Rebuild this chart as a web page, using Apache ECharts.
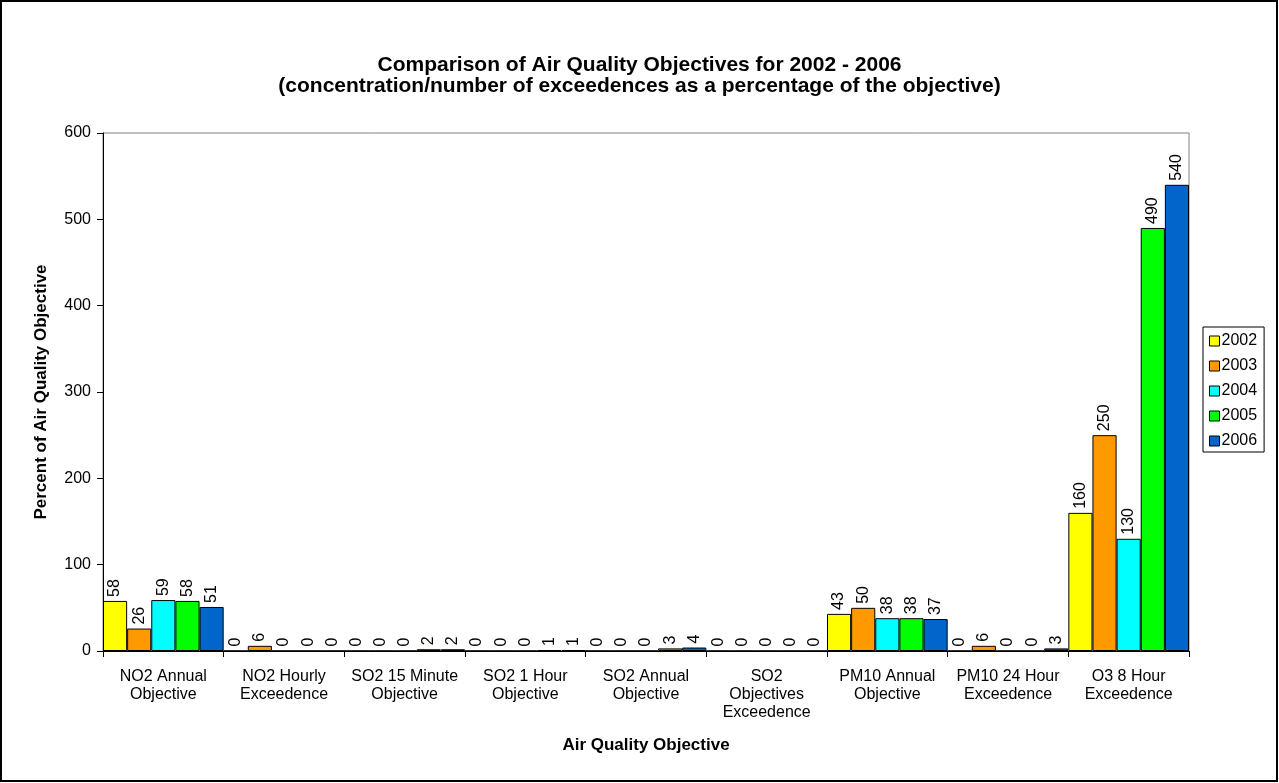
<!DOCTYPE html>
<html>
<head>
<meta charset="utf-8">
<script src="https://cdn.jsdelivr.net/npm/echarts@6/dist/echarts.min.js"></script>
<style>
  html, body { margin: 0; padding: 0; background: #fff; }
  #chart { width: 1279px; height: 783px; }
</style>
</head>
<body>
<div id="chart"></div>
<script>
// Air quality objectives, 2002-2006, as percent of each objective
const categories = [
  'NO2 Annual\nObjective',
  'NO2 Hourly\nExceedence',
  'SO2 15 Minute\nObjective',
  'SO2 1 Hour\nObjective',
  'SO2 Annual\nObjective',
  'SO2\nObjectives\nExceedence',
  'PM10 Annual\nObjective',
  'PM10 24 Hour\nExceedence',
  'O3 8 Hour\nExceedence'
];
const years = ['2002', '2003', '2004', '2005', '2006'];
const values2002 = [58, 0, 0, 0, 0, 0, 43, 0, 160];
const values2003 = [26, 6, 0, 0, 0, 0, 50, 6, 250];
const values2004 = [59, 0, 0, 0, 0, 0, 38, 0, 130];
const values2005 = [58, 0, 2, 1, 3, 0, 38, 0, 490];
const values2006 = [51, 0, 2, 1, 4, 0, 37, 3, 540];
const yTicks = [0, 100, 200, 300, 400, 500, 600];

const seriesValues = [values2002, values2003, values2004, values2005, values2006];
const colors = ['#FFFF00', '#FF9900', '#00FFFF', '#00FF00', '#0066CC'];

const FONT = 'Liberation Sans, Arial, sans-serif';

const chart = echarts.init(document.getElementById('chart'), null, { renderer: 'canvas' });

chart.setOption({
  animation: false,
  backgroundColor: '#ffffff',
  textStyle: { fontFamily: FONT, color: '#000' },
  title: {
    text: 'Comparison of Air Quality Objectives for 2002 - 2006\n(concentration/number of exceedences as a percentage of the objective)',
    left: 'center',
    top: 50,
    textStyle: { fontFamily: FONT, fontSize: 21, fontWeight: 'bold', color: '#000', lineHeight: 21 }
  },
  legend: {
    orient: 'vertical',
    left: 1203,
    top: 327,
    padding: [6, 7, 3, 6],
    itemGap: 9,
    itemWidth: 10,
    itemHeight: 10,
    icon: 'rect',
    borderColor: '#000',
    borderWidth: 1,
    textStyle: { fontFamily: FONT, fontSize: 16, color: '#000', padding: [0, 0, 0, -3] },
    itemStyle: { borderColor: '#000', borderWidth: 1 },
    data: years
  },
  grid: {
    left: 103,
    right: 90,
    top: 133,
    bottom: 132,
    show: true,
    borderColor: '#808080',
    borderWidth: 1,
    containLabel: false
  },
  xAxis: {
    type: 'category',
    data: categories,
    name: 'Air Quality Objective',
    nameLocation: 'middle',
    nameGap: 86,
    nameTextStyle: { fontFamily: FONT, fontSize: 17, fontWeight: 'bold', color: '#000' },
    axisLine: { show: true, lineStyle: { color: '#000', width: 1 } },
    axisTick: { show: true, alignWithLabel: false, interval: 0, length: 6, lineStyle: { color: '#000' } },
    axisLabel: { interval: 0, margin: 17, fontSize: 16, lineHeight: 18, color: '#000', fontFamily: FONT },
    splitLine: { show: false }
  },
  yAxis: {
    type: 'value',
    min: 0,
    max: 600,
    interval: 100,
    name: 'Percent of Air Quality Objective',
    nameLocation: 'middle',
    nameGap: 53,
    nameRotate: 90,
    nameTextStyle: { fontFamily: FONT, fontSize: 17, fontWeight: 'bold', color: '#000' },
    axisLine: { show: true, lineStyle: { color: '#000', width: 1 } },
    axisTick: { show: true, inside: false, length: 6, lineStyle: { color: '#000' } },
    axisLabel: {
      margin: 12,
      fontSize: 16,
      color: '#000',
      fontFamily: FONT,
      formatter: function (v) { return yTicks.indexOf(v) >= 0 ? String(v) : ''; }
    },
    splitLine: { show: false }
  },
  series: years.map(function (year, i) {
    return {
      name: year,
      type: 'bar',
      data: seriesValues[i],
      barGap: '0%',
      barCategoryGap: '0%',
      itemStyle: { color: colors[i], borderColor: '#000', borderWidth: 1 },
      label: {
        show: true,
        position: 'top',
        distance: 4,
        rotate: 90,
        align: 'left',
        verticalAlign: 'middle',
        fontSize: 16,
        fontFamily: FONT,
        color: '#000'
      }
    };
  }),
  graphic: [{
    type: 'rect',
    silent: true,
    shape: { x: 1, y: 1, width: 1276, height: 780 },
    style: { fill: 'none', stroke: '#000', lineWidth: 2 }
  }]
});
</script>
</body>
</html>
